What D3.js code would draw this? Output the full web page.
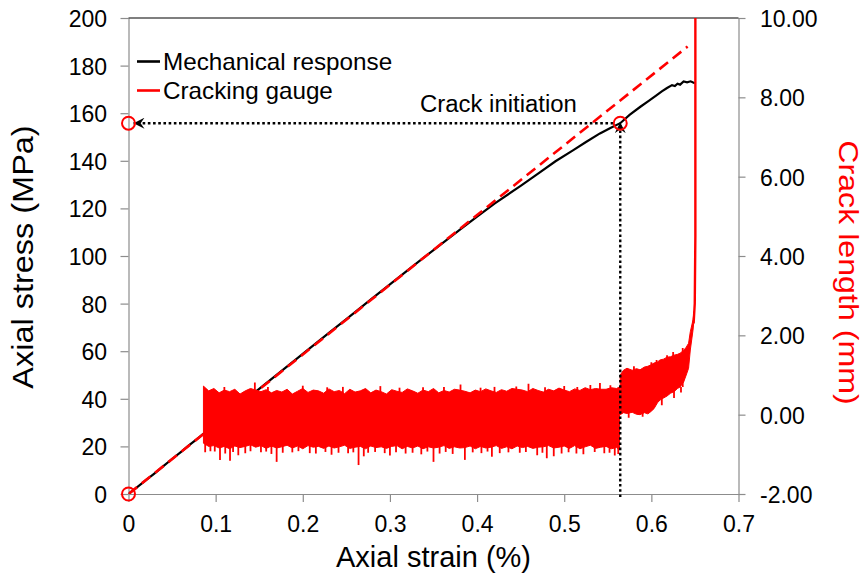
<!DOCTYPE html>
<html><head><meta charset="utf-8">
<script src="https://cdn.jsdelivr.net/npm/d3@7"></script>
<style>body{margin:0;background:#fff} svg{display:block} text{font-family:"Liberation Sans",Arial,sans-serif;fill:#000}</style>
</head><body><svg id="c" width="864" height="576"></svg>
<script>
// ---------- data ----------
const strainTicks = [0,0.1,0.2,0.3,0.4,0.5,0.6,0.7];
const strainTickLabels = ["0","0.1","0.2","0.3","0.4","0.5","0.6","0.7"];
const stressTicks = [0,20,40,60,80,100,120,140,160,180,200];
const crackTicks = [-2,0,2,4,6,8,10];
const crackTickLabels = ["-2.00","0.00","2.00","4.00","6.00","8.00","10.00"];

const seriesNames = ["Mechanical response","Cracking gauge"];

const mechStrain = [0,0.01,0.02,0.03,0.04,0.05,0.06,0.07,0.08,0.09,0.10,0.12,0.15,0.18,0.20,0.23,0.25,0.28,0.30,0.33,0.35,0.38,0.40,0.42,0.45,0.47,0.49,0.51,0.525,0.541,0.553,0.5643,0.575,0.587,0.597,0.605,0.612,0.618,0.6237,0.627,0.630,0.633,0.637,0.641,0.645,0.648,0.650];
const mechStress = [0,2.9,5.8,8.7,11.7,14.7,17.6,20.6,23.5,26.5,29.4,35.3,44.2,53.0,58.9,67.7,73.5,82.3,88.1,96.8,102.5,111.0,116.5,122.0,129.5,134.6,139.8,144.4,147.9,151.5,153.8,155.8,159.3,162.6,165.2,167.3,169.2,170.6,171.8,171.4,172.4,172.0,173.3,173.0,173.4,172.9,172.6];

const fitStrain = [0,0.6416];
const fitStress = [0,188];

// cracking gauge, noisy band before initiation (crack length, mm)
const gaugeStrain = [0.086,0.092,0.098,0.104,0.110,0.116,0.122,0.128,0.134,0.140,0.146,0.152,0.158,0.164,0.170,0.176,0.182,0.188,0.194,0.200,0.206,0.212,0.218,0.224,0.230,0.236,0.242,0.248,0.254,0.260,0.266,0.272,0.278,0.284,0.290,0.296,0.302,0.308,0.314,0.320,0.326,0.332,0.338,0.344,0.350,0.356,0.362,0.368,0.374,0.380,0.386,0.392,0.398,0.404,0.410,0.416,0.422,0.428,0.434,0.440,0.446,0.452,0.458,0.464,0.470,0.476,0.482,0.488,0.494,0.500,0.506,0.512,0.518,0.524,0.530,0.536,0.542,0.548,0.554,0.560,0.5635];
const gaugeUpper = [0.72,0.60,0.66,0.55,0.62,0.58,0.64,0.52,0.60,0.66,0.62,0.58,0.63,0.55,0.61,0.57,0.64,0.52,0.59,0.66,0.56,0.62,0.60,0.54,0.65,0.58,0.61,0.53,0.64,0.57,0.60,0.66,0.55,0.62,0.58,0.52,0.63,0.59,0.56,0.65,0.60,0.54,0.62,0.58,0.66,0.55,0.61,0.57,0.64,0.62,0.59,0.55,0.62,0.58,0.65,0.60,0.56,0.63,0.59,0.66,0.64,0.62,0.58,0.66,0.61,0.57,0.64,0.60,0.67,0.62,0.58,0.65,0.61,0.68,0.63,0.66,0.64,0.64,0.68,0.66,0.70];
const gaugeLower = [-0.72,-0.80,-0.78,-0.84,-0.80,-0.86,-0.79,-0.83,-0.80,-0.76,-0.82,-0.78,-0.85,-0.79,-0.84,-0.81,-0.77,-0.84,-0.79,-0.86,-0.78,-0.82,-0.80,-0.85,-0.79,-0.84,-0.81,-0.77,-0.85,-0.82,-0.80,-0.86,-0.79,-0.83,-0.81,-0.85,-0.80,-0.78,-0.86,-0.80,-0.84,-0.79,-0.86,-0.81,-0.84,-0.82,-0.78,-0.85,-0.81,-0.84,-0.83,-0.79,-0.86,-0.80,-0.84,-0.82,-0.78,-0.85,-0.81,-0.86,-0.79,-0.83,-0.80,-0.85,-0.82,-0.81,-0.78,-0.84,-0.82,-0.79,-0.85,-0.78,-0.86,-0.81,-0.77,-0.85,-0.82,-0.80,-0.86,-0.83,-0.88];
// single-sample spikes sticking out of the band
const spikeStrain = [0.094,0.105,0.1165,0.126,0.134,0.145,0.164,0.170,0.200,0.215,0.233,0.252,0.264,0.275,0.289,0.300,0.318,0.336,0.350,0.372,0.381,0.386,0.405,0.417,0.449,0.459,0.469,0.480,0.497,0.522,0.530,0.541,0.546,0.558,
  0.088,0.099,0.111,0.120,0.140,0.152,0.158,0.177,0.188,0.195,0.208,0.226,0.241,0.258,0.270,0.283,0.294,0.307,0.326,0.343,0.357,0.364,0.395,0.412,0.426,0.436,0.456,0.475,0.488,0.505,0.514,0.535,0.552,0.562,
  0.110,0.160,0.228,0.246,0.311,0.338,0.362,0.404,0.420,0.445,0.478,0.500,0.515,0.553];
const spikeCrack  = [-0.92,-1.14,-1.16,-1.02,-0.97,0.81,-0.99,-1.19,0.73,-0.98,-1.01,-0.97,-1.27,-0.96,0.72,-1.03,-0.98,-1.00,-1.19,-0.99,0.76,-1.14,-0.97,-1.06,-0.96,0.78,-1.02,-1.10,-0.98,-1.00,0.75,0.80,-0.97,-1.03,
  -0.95,-0.93,-0.98,-0.94,-0.92,-0.95,-0.93,-0.96,-0.95,-0.92,-0.97,-0.94,-0.96,-0.95,-1.05,-0.94,-0.97,-0.95,-0.96,-0.93,-0.98,-0.94,-0.95,-0.93,-0.97,-0.95,-0.94,-0.96,-1.05,-0.95,-0.98,-0.94,-0.96,-0.99,
  0.70,0.70,0.69,0.70,0.68,0.69,0.70,0.68,0.70,0.71,0.69,0.72,0.70,0.74];

// band after initiation
const gauge2Strain = [0.5643,0.568,0.572,0.578,0.583,0.587,0.592,0.596,0.599,0.603,0.607,0.610,0.614,0.618,0.622,0.626,0.630,0.633,0.637,0.640,0.6427,0.6447,0.6478,0.649];
const gauge2Upper  = [1.00,1.12,1.17,1.12,1.16,1.13,1.20,1.22,1.25,1.30,1.33,1.38,1.40,1.45,1.46,1.50,1.52,1.55,1.62,1.70,1.80,2.09,2.39,2.60];
const gauge2Lower  = [0.00,0.05,0.03,0.06,0.01,0.00,0.05,0.02,0.07,0.15,0.30,0.37,0.42,0.47,0.54,0.58,0.66,0.70,0.82,1.00,1.17,1.63,2.13,2.40];
const spike2Strain = [0.574,0.590,0.600,0.612,0.625,0.626,0.634,0.636,0.580,0.606,0.618];
const spike2Crack  = [-0.08,-0.05,1.32,0.24,1.58,0.42,0.56,1.68,1.22,1.38,1.50];

// final rupture: crack length shoots off the top
const riseStrain = [0.6485,0.6498,0.6505,0.6505];
const riseCrack  = [2.30,2.80,4.50,12.0];

const initStrain = 0.5643, initStress = 155.8;

// ---------- layout ----------
const svg = d3.select("#c");
const X0 = 128.5, X1 = 738.5, YT = 18, YB = 494;
const x  = d3.scaleLinear().domain([0,0.7]).range([X0,X1]);
const yL = d3.scaleLinear().domain([0,200]).range([YB,YT]);
const yR = d3.scaleLinear().domain([-2,10]).range([YB,YT]);
const RED = "#ff0000", AX = "#8c8c8c";
const FS = 23;

const defs = svg.append("defs");
defs.append("clipPath").attr("id","plot")
  .append("rect").attr("x",X0).attr("y",YT).attr("width",X1-X0).attr("height",YB-YT);
defs.append("marker").attr("id","arr").attr("viewBox","0 0 10 10")
  .attr("refX",10).attr("refY",5).attr("markerWidth",11).attr("markerHeight",11)
  .attr("markerUnits","userSpaceOnUse").attr("orient","auto")
  .append("path").attr("d","M10,5 L0,0 L3.5,5 L0,10 Z").attr("fill","#000");

// axes
const gL = svg.append("g").attr("transform",`translate(${X0},0)`)
  .call(d3.axisLeft(yL).tickValues(stressTicks).tickSize(8).tickSizeOuter(0).tickFormat(d3.format("d")));
gL.selectAll("text").attr("x",-21.5).attr("dy",null).attr("y",8.5).attr("font-size",FS);
const gB = svg.append("g").attr("transform",`translate(0,${YB})`)
  .call(d3.axisBottom(x).tickValues(strainTicks).tickSize(8).tickSizeOuter(0).tickFormat((d,i)=>strainTickLabels[i]));
gB.selectAll("text").attr("y",38).attr("dy",null).attr("font-size",FS);
const gR = svg.append("g").attr("transform",`translate(${X1},0)`)
  .call(d3.axisRight(yR).tickValues(crackTicks).tickSize(7).tickSizeOuter(0).tickFormat((d,i)=>crackTickLabels[i]));
gR.selectAll("text").attr("x",21.5).attr("dy",null).attr("y",8.5).attr("font-size",FS);
[gL,gB,gR].forEach(g=>{
  g.attr("font-family",null).attr("font-size",null);
  g.selectAll("path.domain").attr("stroke",AX).attr("stroke-width",1.2);
  g.selectAll(".tick line").attr("stroke",AX).attr("stroke-width",1.2);
  g.selectAll("text").attr("fill","#000");
});
svg.append("line").attr("x1",X0).attr("x2",X1).attr("y1",YT).attr("y2",YT)
  .attr("stroke","#000").attr("stroke-width",1.2);

// text helper: glyphs in the reference are a little wider than Arial
function label(tx,ty,rot,sx,size,str,anchor,color){
  return svg.append("text")
    .attr("transform",`translate(${tx},${ty}) rotate(${rot}) scale(${sx},1)`)
    .attr("text-anchor",anchor).attr("font-size",size).style("fill",color||"#000").text(str);
}

// titles
label((X0+X1)/2,566.5,0,1,29,"Axial strain (%)","middle");
label(33,(YT+YB)/2+1,-90,1.12,29,"Axial stress (MPa)","middle");
label(838.5,272.5,90,1.17,27.5,"Crack length (mm)","middle",RED);

// series
const plot = svg.append("g").attr("clip-path","url(#plot)");
const mech = mechStrain.map((s,i)=>[x(s),yL(mechStress[i])]);
plot.append("path").attr("d",d3.line()(mech)).attr("fill","none").attr("stroke","#000").attr("stroke-width",2.2);
const fit = fitStrain.map((s,i)=>[x(s),yL(fitStress[i])]);
plot.append("path").attr("d",d3.line()(fit)).attr("fill","none").attr("stroke",RED)
  .attr("stroke-width",2.6).attr("stroke-dasharray","11,6");

const band = d3.area().x(d=>d[0]).y0(d=>d[1]).y1(d=>d[2]);
plot.append("path").attr("d",band(gaugeStrain.map((s,i)=>[x(s),yR(gaugeLower[i]),yR(gaugeUpper[i])])))
  .attr("fill",RED).attr("stroke",RED).attr("stroke-width",1);
plot.append("path").attr("d",band(gauge2Strain.map((s,i)=>[x(s),yR(gauge2Lower[i]),yR(gauge2Upper[i])])))
  .attr("fill",RED).attr("stroke",RED).attr("stroke-width",1);
plot.selectAll("line.sp").data(spikeStrain.map((s,i)=>[s,spikeCrack[i]]).concat(spike2Strain.map((s,i)=>[s,spike2Crack[i]])))
  .join("line").attr("class","sp")
  .attr("x1",d=>x(d[0])).attr("x2",d=>x(d[0]))
  .attr("y1",d=>yR(d[0]<0.564?0:0.7)).attr("y2",d=>yR(d[1]))
  .attr("stroke",RED).attr("stroke-width",1.8);
plot.append("path").attr("d",d3.line()(riseStrain.map((s,i)=>[x(s),yR(riseCrack[i])])))
  .attr("fill","none").attr("stroke",RED).attr("stroke-width",2.4);

// annotations
const ix = x(initStrain), iy = yL(initStress);
svg.append("line").attr("x1",ix-7).attr("y1",iy).attr("x2",x(0)+5).attr("y2",iy)
  .attr("stroke","#000").attr("stroke-width",2.4).attr("stroke-dasharray","2.6,2.6").attr("marker-end","url(#arr)");
svg.append("line").attr("x1",ix).attr("y1",YB+3).attr("x2",ix).attr("y2",iy-1)
  .attr("stroke","#000").attr("stroke-width",2.4).attr("stroke-dasharray","2.6,2.6").attr("marker-end","url(#arr)");
[[0,0],[0,initStress],[initStrain,initStress]].forEach(p=>{
  svg.append("circle").attr("cx",x(p[0])).attr("cy",yL(p[1])).attr("r",6.5)
    .attr("fill","none").attr("stroke",RED).attr("stroke-width",2);
});
label(420,111.5,0,1.04,FS,"Crack initiation","start");

// legend
[["#000",61.5,70],[RED,90.5,99]].forEach((r,i)=>{
  svg.append("line").attr("x1",137).attr("x2",160).attr("y1",r[1]).attr("y2",r[1]).attr("stroke",r[0]).attr("stroke-width",2.6);
  label(163,r[2],0,1.055,FS,seriesNames[i],"start");
});
</script></body></html>
